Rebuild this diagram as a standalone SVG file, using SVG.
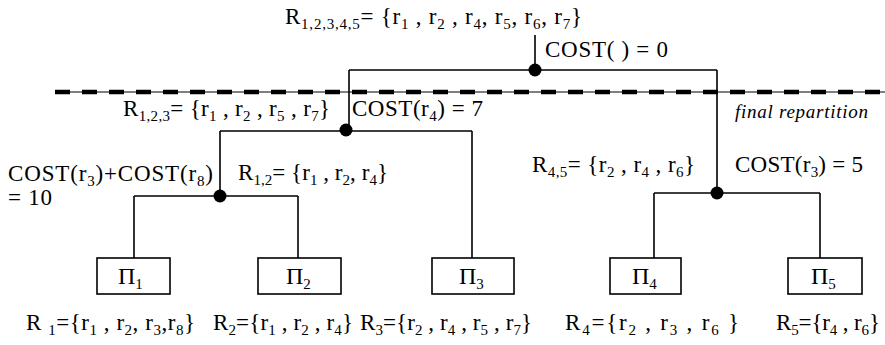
<svg xmlns="http://www.w3.org/2000/svg" width="885" height="345" viewBox="0 0 885 345">
<style>
text{font-family:"Liberation Serif","Times New Roman",serif;font-size:23px;fill:#000}
.s{font-size:15px}
.it{font-style:italic;font-size:19px}
.pi{font-size:24px}
.ln{stroke:#000;stroke-width:1.6;fill:none}
.box{stroke:#000;stroke-width:1.6;fill:#fff}
.dot{fill:#000}
</style>
<rect width="885" height="345" fill="#fff"/>
<g id="partition-line">
<line x1="55" y1="92" x2="885" y2="92" stroke="#000" stroke-width="1"/>
<line x1="55" y1="92" x2="885" y2="92" stroke="#000" stroke-width="4.5" stroke-dasharray="15 12"/>
<text class="it" x="735" y="118" textLength="133" lengthAdjust="spacing">final repartition</text>
</g>
<g id="connectors">
<path class="ln" d="M535 35V70M349 70H717M349 70V131M220 131H472M220 131V196M472 131V258M134 196H298M134 196V258M298 196V258M717 70V193M654 193H820M654 193V258M820 193V258"/>
<circle class="dot" cx="535" cy="70" r="6.5"/>
<circle class="dot" cx="346" cy="130" r="6.5"/>
<circle class="dot" cx="220" cy="196" r="6.5"/>
<circle class="dot" cx="717" cy="193" r="6.5"/>
</g>
<g id="root">
<text x="285" y="24" textLength="297" lengthAdjust="spacing">R<tspan class="s" dy="5">1,2,3,4,5</tspan><tspan dy="-5">= {r</tspan><tspan class="s" dy="5">1</tspan><tspan dy="-5"> , r</tspan><tspan class="s" dy="5">2</tspan><tspan dy="-5"> , r</tspan><tspan class="s" dy="5">4</tspan><tspan dy="-5">, r</tspan><tspan class="s" dy="5">5</tspan><tspan dy="-5">, r</tspan><tspan class="s" dy="5">6</tspan><tspan dy="-5">, r</tspan><tspan class="s" dy="5">7</tspan><tspan dy="-5">}</tspan></text>
<text x="545" y="57" textLength="123" lengthAdjust="spacing">COST( ) = 0</text>
</g>
<g id="n123">
<text x="123" y="116" textLength="207" lengthAdjust="spacing">R<tspan class="s" dy="5">1,2,3</tspan><tspan dy="-5">= {r</tspan><tspan class="s" dy="5">1</tspan><tspan dy="-5"> , r</tspan><tspan class="s" dy="5">2</tspan><tspan dy="-5"> , r</tspan><tspan class="s" dy="5">5</tspan><tspan dy="-5"> , r</tspan><tspan class="s" dy="5">7</tspan><tspan dy="-5">}</tspan></text>
<text x="352" y="116" textLength="131" lengthAdjust="spacing">COST(r<tspan class="s" dy="5">4</tspan><tspan dy="-5">) = 7</tspan></text>
</g>
<g id="n12">
<text x="8" y="181" textLength="205" lengthAdjust="spacing">COST(r<tspan class="s" dy="5">3</tspan><tspan dy="-5">)+COST(r</tspan><tspan class="s" dy="5">8</tspan><tspan dy="-5">)</tspan></text>
<text x="8" y="205" textLength="44" lengthAdjust="spacing">= 10</text>
<text x="238" y="180" textLength="150" lengthAdjust="spacing">R<tspan class="s" dy="5">1,2</tspan><tspan dy="-5">= {r</tspan><tspan class="s" dy="5">1</tspan><tspan dy="-5"> , r</tspan><tspan class="s" dy="5">2</tspan><tspan dy="-5">, r</tspan><tspan class="s" dy="5">4</tspan><tspan dy="-5">}</tspan></text>
</g>
<g id="n45">
<text x="532" y="172" textLength="163" lengthAdjust="spacing">R<tspan class="s" dy="5">4,5</tspan><tspan dy="-5">= {r</tspan><tspan class="s" dy="5">2</tspan><tspan dy="-5"> , r</tspan><tspan class="s" dy="5">4</tspan><tspan dy="-5"> , r</tspan><tspan class="s" dy="5">6</tspan><tspan dy="-5">}</tspan></text>
<text x="735" y="172" textLength="128" lengthAdjust="spacing">COST(r<tspan class="s" dy="5">3</tspan><tspan dy="-5">) = 5</tspan></text>
</g>
<g id="p1">
<rect class="box" x="97" y="258" width="73" height="36"/>
<text class="pi" x="118" y="284">Π<tspan class="s" dy="5">1</tspan></text>
<text x="26" y="330" textLength="169" lengthAdjust="spacing">R <tspan class="s" dy="5">1</tspan><tspan dy="-5">={r</tspan><tspan class="s" dy="5">1</tspan><tspan dy="-5"> , r</tspan><tspan class="s" dy="5">2</tspan><tspan dy="-5">, r</tspan><tspan class="s" dy="5">3</tspan><tspan dy="-5">,r</tspan><tspan class="s" dy="5">8</tspan><tspan dy="-5">}</tspan></text>
</g>
<g id="p2">
<rect class="box" x="258" y="258" width="83" height="36"/>
<text class="pi" x="286" y="284">Π<tspan class="s" dy="5">2</tspan></text>
<text x="213" y="330" textLength="140" lengthAdjust="spacing">R<tspan class="s" dy="5">2</tspan><tspan dy="-5">={r</tspan><tspan class="s" dy="5">1</tspan><tspan dy="-5"> , r</tspan><tspan class="s" dy="5">2</tspan><tspan dy="-5"> , r</tspan><tspan class="s" dy="5">4</tspan><tspan dy="-5">}</tspan></text>
</g>
<g id="p3">
<rect class="box" x="432" y="258" width="82" height="36"/>
<text class="pi" x="459" y="284">Π<tspan class="s" dy="5">3</tspan></text>
<text x="360" y="330" textLength="172" lengthAdjust="spacing">R<tspan class="s" dy="5">3</tspan><tspan dy="-5">={r</tspan><tspan class="s" dy="5">2</tspan><tspan dy="-5"> , r</tspan><tspan class="s" dy="5">4</tspan><tspan dy="-5"> , r</tspan><tspan class="s" dy="5">5</tspan><tspan dy="-5"> , r</tspan><tspan class="s" dy="5">7</tspan><tspan dy="-5">}</tspan></text>
</g>
<g id="p4">
<rect class="box" x="610" y="258" width="71" height="36"/>
<text class="pi" x="632" y="284">Π<tspan class="s" dy="5">4</tspan></text>
<text x="565" y="330" textLength="174" lengthAdjust="spacing">R<tspan class="s" dy="5">4</tspan><tspan dy="-5">={r</tspan><tspan class="s" dy="5">2</tspan><tspan dy="-5"> , r</tspan><tspan class="s" dy="5">3</tspan><tspan dy="-5"> , r</tspan><tspan class="s" dy="5">6</tspan><tspan dy="-5"> }</tspan></text>
</g>
<g id="p5">
<rect class="box" x="788" y="258" width="74" height="36"/>
<text class="pi" x="811" y="284">Π<tspan class="s" dy="5">5</tspan></text>
<text x="776" y="330" textLength="104" lengthAdjust="spacing">R<tspan class="s" dy="5">5</tspan><tspan dy="-5">={r</tspan><tspan class="s" dy="5">4</tspan><tspan dy="-5"> , r</tspan><tspan class="s" dy="5">6</tspan><tspan dy="-5">}</tspan></text>
</g>
</svg>
